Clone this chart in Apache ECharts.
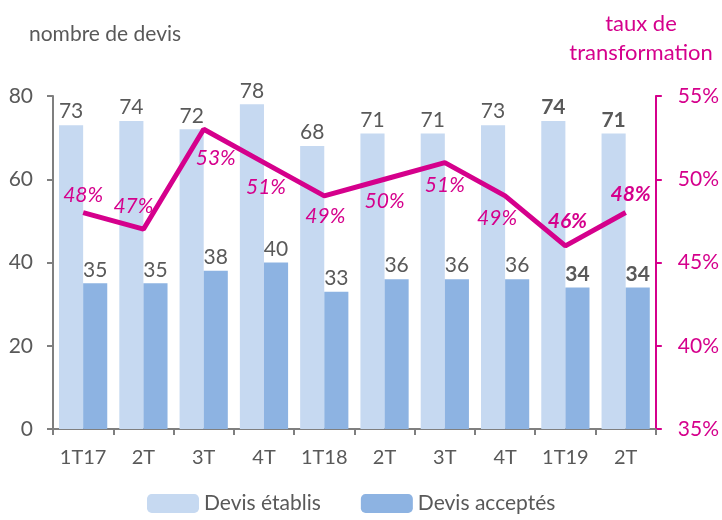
<!DOCTYPE html>
<html>
<head>
<meta charset="utf-8">
<script src="https://cdn.jsdelivr.net/npm/echarts@6/dist/echarts.min.js"></script>
<style>
  html, body { margin: 0; padding: 0; background: #fff; }
  #chart { width: 722px; height: 520px; }
</style>
</head>
<body>
<div id="chart"></div>
<script>
// données
var categories = ['1T17', '2T', '3T', '4T', '1T18', '2T', '3T', '4T', '1T19', '2T'];
var devisEtablis = [73, 74, 72, 78, 68, 71, 71, 73, 74, 71];
var devisAcceptes = [35, 35, 38, 40, 33, 36, 36, 36, 34, 34];
var tauxTransfo = [48, 47, 53, 51, 49, 50, 51, 49, 46, 48];
var leftTicks = [0, 20, 40, 60, 80];
var rightTicks = [35, 40, 45, 50, 55];

// placement des étiquettes de la courbe (style seulement)
var labelPlace = [
  ['top', [0, -2]], ['top', [-10, -7]], ['bottom', [12, 13]], ['bottom', [2, 9]],
  ['bottom', [1, 5]], ['bottom', [0, 6]], ['bottom', [0, 7]], ['bottom', [-8, 7]],
  ['top', [2, -9]], ['top', [5, -3]]
];
var boldFrom = 8; // les deux derniers trimestres en gras

var grey = '#595959';
var pink = '#d5008c';
var font = 'Lato';

var chart = echarts.init(document.getElementById('chart'));

function barData(arr) {
  return arr.map(function (v, i) {
    return {
      value: v,
      label: { fontWeight: i >= boldFrom ? 'bold' : 'normal' }
    };
  });
}

var lineData = tauxTransfo.map(function (v, i) {
  return {
    value: v,
    label: {
      position: labelPlace[i][0],
      offset: labelPlace[i][1],
      fontWeight: i >= boldFrom ? 'bold' : 'normal'
    }
  };
});

var option = {
  animation: false,
  textStyle: { fontFamily: font },
  title: [
    {
      text: 'nombre de devis',
      left: 24, top: 19,
      textStyle: { color: grey, fontSize: 21, fontWeight: 'normal', fontFamily: font }
    },
    {
      text: 'taux de\ntransformation',
      left: 636, top: 4, textAlign: 'center',
      textStyle: { color: pink, fontSize: 22, fontWeight: 'normal', fontFamily: font, lineHeight: 29, align: 'center' }
    }
  ],
  legend: {
    bottom: 1,
    left: 142,
    itemWidth: 52,
    itemHeight: 19,
    itemGap: 40,
    textStyle: { color: grey, fontSize: 21, fontFamily: font },
    data: ['Devis établis', 'Devis acceptés']
  },
  grid: { left: 53, right: 65, top: 96, bottom: 91 },
  xAxis: {
    type: 'category',
    data: categories,
    axisLine: { lineStyle: { color: '#7f7f7f', width: 2 } },
    axisTick: { show: true, length: 6, lineStyle: { color: '#7f7f7f', width: 2 } },
    axisLabel: { color: grey, fontSize: 20, margin: 19, interval: 0, fontFamily: font }
  },
  yAxis: [
    {
      type: 'value',
      min: leftTicks[0], max: leftTicks[leftTicks.length - 1], interval: 20,
      axisLine: { show: true, lineStyle: { color: '#7f7f7f', width: 2 } },
      axisTick: { show: true, length: 6, lineStyle: { color: '#7f7f7f', width: 2 } },
      axisLabel: { color: grey, fontSize: 21, margin: 20, fontFamily: font },
      splitLine: { show: false }
    },
    {
      type: 'value',
      min: rightTicks[0], max: rightTicks[rightTicks.length - 1], interval: 5,
      axisLine: { show: true, lineStyle: { color: pink, width: 2 } },
      axisTick: { show: true, length: 6, lineStyle: { color: pink, width: 2 } },
      axisLabel: { color: pink, fontSize: 21, margin: 22, fontFamily: font, formatter: '{value}%' },
      splitLine: { show: false }
    }
  ],
  series: [
    {
      name: 'Devis établis',
      type: 'bar',
      data: barData(devisEtablis),
      barGap: '0%',
      barCategoryGap: '20%',
      itemStyle: { color: '#c6d9f1' },
      label: { show: true, position: 'top', distance: 3, color: grey, fontSize: 21, fontFamily: font }
    },
    {
      name: 'Devis acceptés',
      type: 'bar',
      data: barData(devisAcceptes),
      itemStyle: { color: '#8db3e2' },
      label: { show: true, position: 'top', distance: 3, color: grey, fontSize: 21, fontFamily: font }
    },
    {
      name: 'taux',
      type: 'line',
      yAxisIndex: 1,
      data: lineData,
      symbol: 'circle',
      symbolSize: 0.1,
      showSymbol: true,
      itemStyle: { color: pink },
      lineStyle: { color: pink, width: 5 },
      z: 5,
      label: {
        show: true,
        color: pink,
        fontSize: 21,
        fontStyle: 'italic',
        fontFamily: font,
        formatter: '{c}%'
      }
    }
  ]
};

chart.setOption(option);
</script>
</body>
</html>
